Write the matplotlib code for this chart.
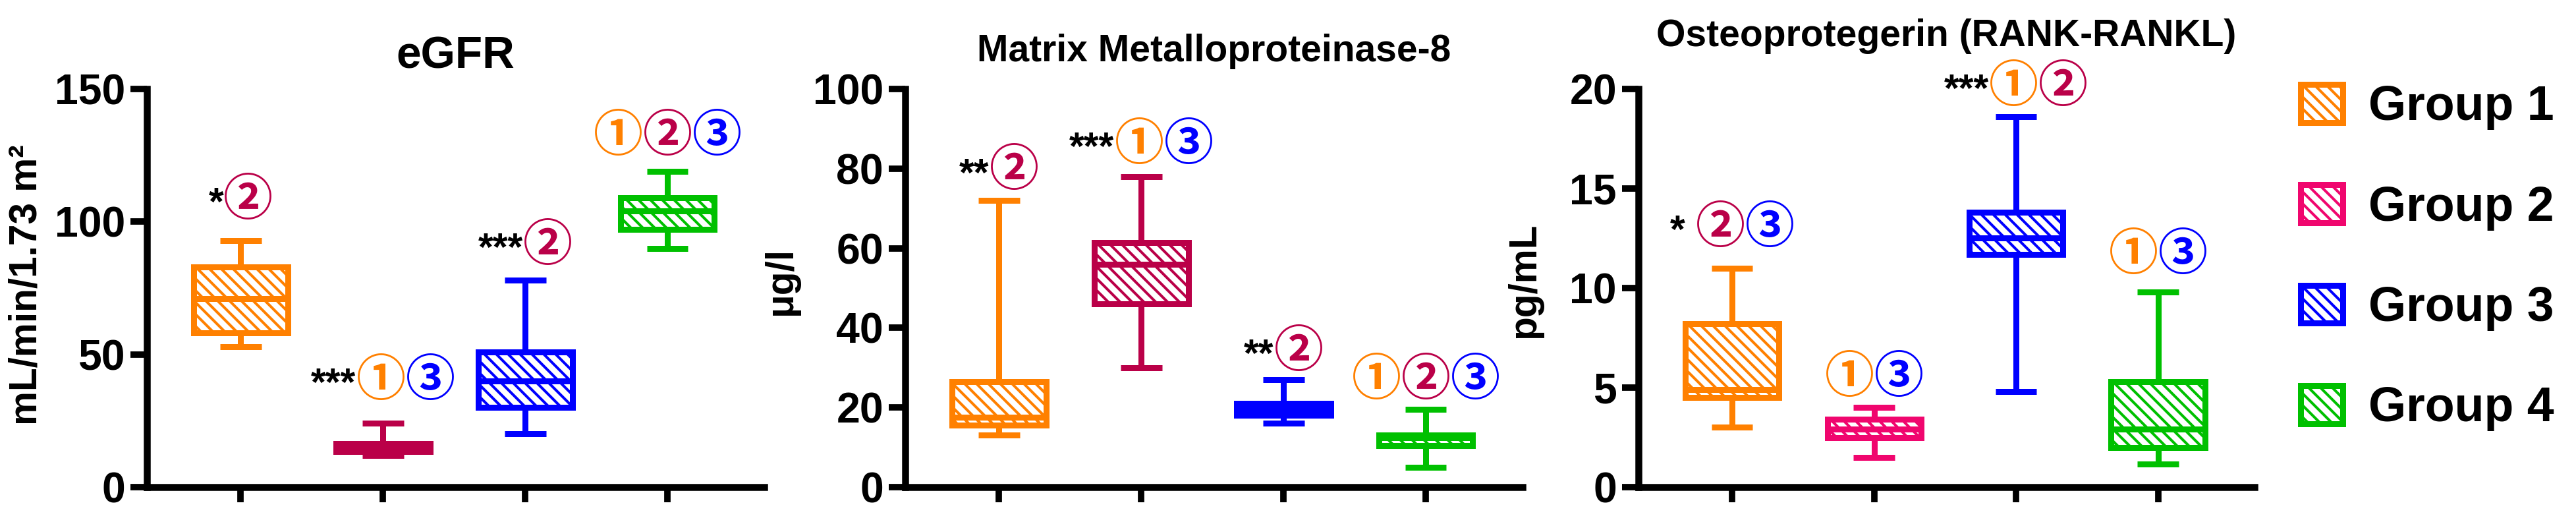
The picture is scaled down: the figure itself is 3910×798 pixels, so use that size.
import matplotlib
matplotlib.use("Agg")
import matplotlib.pyplot as plt
from matplotlib.offsetbox import AnnotationBbox, HPacker, TextArea
from matplotlib.patches import Patch

GROUPS = ["Group 1", "Group 2", "Group 3", "Group 4"]
POSITIONS = [1, 2, 3, 4]

# eGFR (mL/min/1.73 m2)
EGFR_MIN = [53, 12, 20, 90]
EGFR_Q1 = [58, 13.5, 30, 97]
EGFR_MED = [71, 15, 40, 104]
EGFR_Q3 = [83, 16.5, 51, 109]
EGFR_MAX = [93, 24, 78, 119]
EGFR_MARKS = ["*2", "***13", "***2", "123"]
EGFR_MARK_Y = [108, 40, 91, 132]

# Matrix Metalloproteinase-8 (ug/l)
MMP_MIN = [13, 30, 16, 5]
MMP_Q1 = [15.5, 46, 18, 10.5]
MMP_MED = [17.5, 56, 19.5, 12.5]
MMP_Q3 = [26.5, 61.5, 21, 13]
MMP_MAX = [72, 78, 27, 19.5]
MMP_MARKS = ["**2", "***13", "**2", "123"]
MMP_MARK_Y = [79.4, 86, 34, 26.9]

# Osteoprotegerin (pg/mL)
OPG_MIN = [3.0, 1.5, 4.8, 1.15]
OPG_Q1 = [4.5, 2.5, 11.7, 2.0]
OPG_MED = [4.9, 2.9, 12.5, 2.9]
OPG_Q3 = [8.2, 3.4, 13.8, 5.3]
OPG_MAX = [11.0, 4.0, 18.6, 9.8]
OPG_MARKS = ["* 23", "13", "***12", "13"]
OPG_MARK_Y = [13.0, 5.5, 20.1, 11.65]

ORANGE = "#FF8000"
CRIMSON = "#BA0048"
PINK = "#F0066E"
BLUE = "#0000FF"
GREEN = "#00C000"
CIRCLE_COLORS = {"1": ORANGE, "2": CRIMSON, "3": BLUE}
CIRCLED = {"1": "\u2460", "2": "\u2461", "3": "\u2462"}

DPI = 108
W, H = 3910, 798

plt.rcParams["font.family"] = ["Liberation Sans", "DejaVu Sans"]
plt.rcParams["font.weight"] = "bold"
plt.rcParams["hatch.linewidth"] = 2.7

LW = 6.0
HATCH = "\\\\"


def make_stats(mins, q1, med, q3, maxs):
    return [
        {"whislo": a, "q1": b, "med": c, "q3": d, "whishi": e, "fliers": []}
        for a, b, c, d, e in zip(mins, q1, med, q3, maxs)
    ]


def add_mark(ax, x, y, code):
    parts = []
    stars = ""
    for ch in code:
        if ch in CIRCLED:
            if stars:
                parts.append(TextArea(stars, textprops=dict(color="black", fontsize=39,
                                                            fontweight="bold",
                                                            family=["Liberation Sans"])))
                stars = ""
            parts.append(TextArea(CIRCLED[ch], textprops=dict(color=CIRCLE_COLORS[ch], fontsize=50,
                                                              fontweight="bold",
                                                              family=["Noto Sans CJK JP", "DejaVu Sans"])))
        else:
            stars += ch
    pack = HPacker(children=parts, align="baseline", pad=0, sep=0)
    ab = AnnotationBbox(pack, (x, y), xycoords="data", frameon=False,
                        box_alignment=(0.5, 0.5), pad=0, annotation_clip=False)
    ax.add_artist(ab)


def draw_panel(ax, stats, colors, ylim, yticks, title, title_size, title_pad,
               ylabel, label_xy, marks, mark_y):
    bp = ax.bxp(stats, positions=POSITIONS, widths=0.66, capwidths=0.29,
                patch_artist=True, showfliers=False,
                boxprops=dict(linewidth=LW),
                whiskerprops=dict(linewidth=LW),
                capprops=dict(linewidth=LW),
                medianprops=dict(linewidth=LW))
    for i, c in enumerate(colors):
        box = bp["boxes"][i]
        box.set_facecolor("white")
        box.set_edgecolor(c)
        box.set_hatch(HATCH)
        bp["medians"][i].set_color(c)
        for ln in bp["whiskers"][2 * i:2 * i + 2] + bp["caps"][2 * i:2 * i + 2]:
            ln.set_color(c)
            ln.set_solid_capstyle("butt")

    ax.set_xlim(0.34, 4.68)
    ax.set_ylim(*ylim)
    ax.set_yticks(yticks)
    ax.set_xticks(POSITIONS)
    ax.set_xticklabels([])
    for s in ["top", "right"]:
        ax.spines[s].set_visible(False)
    for s in ["left", "bottom"]:
        ax.spines[s].set_linewidth(7)
    ax.tick_params(axis="y", length=17, width=6.5, pad=5, labelsize=43)
    ax.tick_params(axis="x", length=15, width=6.5)
    for lab in ax.get_yticklabels():
        lab.set_fontweight("bold")
    ax.set_title(title, fontsize=title_size, fontweight="bold", pad=title_pad)
    ax.set_ylabel(ylabel, fontsize=39, fontweight="bold")
    ax.yaxis.set_label_coords(*label_xy)
    for x, code, y in zip(POSITIONS, marks, mark_y):
        add_mark(ax, x, y, code)
    return ax


fig = plt.figure(figsize=(W / DPI, H / DPI), dpi=DPI)

bottom = (H - 739) / H
height = 604 / H
ax1 = fig.add_axes([223 / W, bottom, 937 / W, height])
ax2 = fig.add_axes([1374 / W, bottom, 937 / W, height])
ax3 = fig.add_axes([2487 / W, bottom, 935 / W, height])

draw_panel(ax1, make_stats(EGFR_MIN, EGFR_Q1, EGFR_MED, EGFR_Q3, EGFR_MAX),
           [ORANGE, CRIMSON, BLUE, GREEN], (0, 150), [0, 50, 100, 150],
           "eGFR", 45, 21, "mL/min/1.73 m\u00b2", (-0.166, 0.508), EGFR_MARKS, EGFR_MARK_Y)

draw_panel(ax2, make_stats(MMP_MIN, MMP_Q1, MMP_MED, MMP_Q3, MMP_MAX),
           [ORANGE, CRIMSON, BLUE, GREEN], (0, 100), [0, 20, 40, 60, 80, 100],
           "Matrix Metalloproteinase-8", 38, 28, "\u03bcg/l", (-0.172, 0.518), MMP_MARKS, MMP_MARK_Y)

draw_panel(ax3, make_stats(OPG_MIN, OPG_Q1, OPG_MED, OPG_Q3, OPG_MAX),
           [ORANGE, PINK, BLUE, GREEN], (0, 20), [0, 5, 10, 15, 20],
           "Osteoprotegerin (RANK-RANKL)", 38, 43, "pg/mL", (-0.156, 0.52), OPG_MARKS, OPG_MARK_Y)

handles = [Patch(facecolor="white", edgecolor=c, hatch=HATCH, linewidth=LW)
           for c in [ORANGE, PINK, BLUE, GREEN]]
fig.legend(handles, GROUPS, loc="upper left", bbox_to_anchor=(3492 / W, 1 - 128 / H),
           frameon=False, handlelength=0.87, handleheight=0.83,
           handletextpad=0.53, labelspacing=1.13, borderpad=0, borderaxespad=0,
           prop=dict(family="Liberation Sans", weight="bold", size=49))

fig.savefig("out.png", dpi=DPI)
